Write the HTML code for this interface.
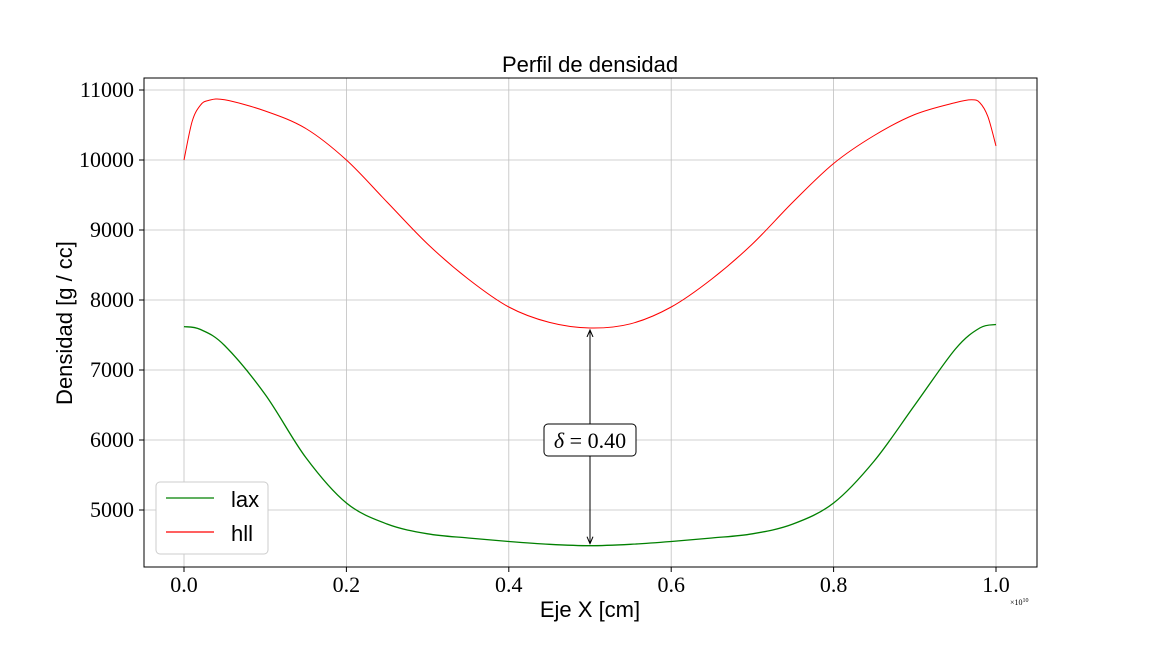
<!DOCTYPE html>
<html><head><meta charset="utf-8"><style>
body{margin:0;background:#fff}
svg{display:block}
.tk{font-family:"Liberation Serif",serif;font-size:22px;fill:#000}
.lb{font-family:"Liberation Sans",sans-serif;font-size:22px;fill:#000}
</style></head><body>
<svg id="chart" width="1152" height="648" xmlns="http://www.w3.org/2000/svg">
<text class="lb" x="590" y="72" text-anchor="middle">Perfil de densidad</text>
<g id="grid"></g>
<g id="series"></g>
<rect x="144" y="78" width="893" height="489" fill="none" stroke="#000" stroke-width="1"/>
<g id="ticks"></g>
<text class="lb" x="590" y="617" text-anchor="middle">Eje X [cm]</text>
<text class="lb" transform="translate(72,323) rotate(-90)" text-anchor="middle">Densidad [g / cc]</text>
<text font-family="Liberation Serif,serif" font-size="8" x="1010" y="605">×10<tspan dy="-3" font-size="6">10</tspan></text>
<g id="annot"></g>
<g>
<rect x="156" y="482" width="112" height="72" rx="4" fill="#fff" stroke="#ccc"/>
<line x1="166" y1="498" x2="214" y2="498" stroke="green" stroke-width="1.3"/>
<text class="lb" x="231" y="507">lax</text>
<line x1="166" y1="532" x2="214" y2="532" stroke="red" stroke-width="1.3"/>
<text class="lb" x="231" y="541">hll</text>
</g>
</svg>
<script>
const xVals=[0,0.01,0.02,0.03,0.05,0.1,0.15,0.2,0.25,0.3,0.35,0.4,0.45,0.5,0.55,0.6,0.65,0.7,0.75,0.8,0.85,0.9,0.95,0.97,0.98,0.99,1.0];
const hll=[10000,10550,10780,10850,10860,10700,10450,10000,9400,8800,8300,7900,7680,7600,7660,7900,8300,8800,9400,9950,10350,10650,10820,10860,10820,10620,10200];
const laxX=[0,0.02,0.05,0.1,0.15,0.2,0.25,0.3,0.35,0.4,0.45,0.5,0.55,0.6,0.65,0.7,0.75,0.8,0.85,0.9,0.95,0.98,1.0];
const lax=[7620,7580,7350,6650,5750,5100,4800,4660,4600,4550,4510,4490,4510,4550,4600,4660,4800,5100,5700,6500,7300,7600,7650];
const xTicks=[0,0.2,0.4,0.6,0.8,1.0];
const xTickLabels=["0.0","0.2","0.4","0.6","0.8","1.0"];
const yTicks=[5000,6000,7000,8000,9000,10000,11000];
const xs=v=>184+v*812, ys=v=>90+(11000-v)*0.07;
const NS="http://www.w3.org/2000/svg";
function mk(t,a,p){const e=document.createElementNS(NS,t);for(const k in a)e.setAttribute(k,a[k]);p.appendChild(e);return e;}
const grid=document.getElementById('grid'),ticks=document.getElementById('ticks');
xTicks.forEach((t,i)=>{const x=xs(t);
 const g=mk('line',{x1:x,x2:x,y1:78,y2:567,stroke:'#c0c0c0','stroke-width':0.8},grid);
 
 mk('line',{x1:x,x2:x,y1:567,y2:572,stroke:'#000'},ticks);
 const tx=mk('text',{x:x,y:592,'text-anchor':'middle',class:'tk'},ticks);tx.textContent=xTickLabels[i];
 });
yTicks.forEach(t=>{const y=ys(t);
 const g=mk('line',{x1:144,x2:1037,y1:y,y2:y,stroke:'#c0c0c0','stroke-width':0.8},grid);
 
 mk('line',{x1:139,x2:144,y1:y,y2:y,stroke:'#000'},ticks);
 const tx=mk('text',{x:134,y:y+7,'text-anchor':'end',class:'tk'},ticks);tx.textContent=t;
 });
function path(X,Y){const p=X.map((x,i)=>[xs(x),ys(Y[i])]);let d='M'+p[0];
 for(let i=0;i<p.length-1;i++){const p0=p[i-1]||p[i],p1=p[i],p2=p[i+1],p3=p[i+2]||p2;
  const c1=[p1[0]+(p2[0]-p0[0])/6,p1[1]+(p2[1]-p0[1])/6],c2=[p2[0]-(p3[0]-p1[0])/6,p2[1]-(p3[1]-p1[1])/6];
  d+='C'+c1+' '+c2+' '+p2;}return d;}
const s=document.getElementById('series');
const l1=mk('path',{d:path(laxX,lax),fill:'none',stroke:'green','stroke-width':1.3},s);

const l2=mk('path',{d:path(xVals,hll),fill:'none',stroke:'red','stroke-width':1},s);

const a=document.getElementById('annot');const ax=xs(0.5);
mk('defs',{},a).innerHTML='<marker id="ah" markerWidth="8" markerHeight="8" refX="7" refY="4" orient="auto"><path d="M0,1L7,4L0,7" fill="none" stroke="#000"/></marker>';
mk('line',{x1:ax,y1:ys(6000),x2:ax,y2:ys(7600)+2,stroke:'#000','marker-end':'url(#ah)'},a);
mk('line',{x1:ax,y1:ys(6000),x2:ax,y2:ys(4490)-2,stroke:'#000','marker-end':'url(#ah)'},a);
mk('rect',{x:ax-46,y:ys(6000)-16,width:92,height:32,rx:4,fill:'#fff',stroke:'#000'},a);
const at=mk('text',{x:ax,y:ys(6000)+8,'text-anchor':'middle',class:'tk'},a);at.innerHTML='<tspan font-style="italic">δ</tspan> = 0.40';
</script>
</body></html>
